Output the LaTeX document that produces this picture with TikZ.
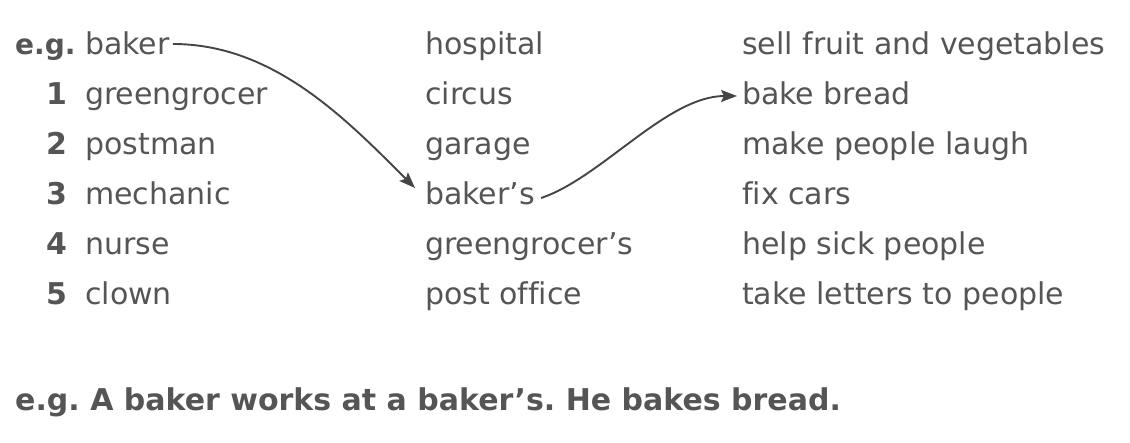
\documentclass[tikz,border=0pt]{standalone}
\usepackage{fontspec}
\setmainfont[Ligatures=NoCommon]{DejaVu Sans}
\usetikzlibrary{arrows.meta}
\definecolor{txt}{HTML}{555555}
\definecolor{arr}{HTML}{454545}
\frenchspacing
\tikzset{
  word/.style={anchor=base west, inner sep=0pt, text=txt, font=\fontsize{30}{36}\selectfont},
  num/.style={word, font=\fontsize{30}{36}\selectfont\bfseries},
  link/.style={draw=arr, line width=1.9pt, -{Stealth[length=16pt,width=12pt,inset=3pt]}}
}
\begin{document}
\begin{tikzpicture}[x=1pt,y=-1pt]
\useasboundingbox (0,0) rectangle (1130,443);
% left column
\node[num, font=\fontsize{28}{34}\selectfont\bfseries] (eg) at (15,55) {e.g.};
\node[word] (w0) at (85,55) {baker};
\node[num] (n1) at (46,105) {1};
\node[word] (w1) at (85,105) {greengrocer};
\node[num] (n2) at (46,155) {2};
\node[word] (w2) at (85,155) {postman};
\node[num] (n3) at (46,205) {3};
\node[word] (w3) at (85,205) {mechanic};
\node[num] (n4) at (46,255) {4};
\node[word] (w4) at (85,255) {nurse};
\node[num] (n5) at (46,305) {5};
\node[word] (w5) at (85,305) {clown};
% middle column
\node[word] (p0) at (425,55) {hospital};
\node[word] (p1) at (425,105) {circus};
\node[word] (p2) at (425,155) {garage};
\node[word] (p3) at (425,205) {baker’s};
\node[word] (p4) at (425,255) {greengrocer’s};
\node[word] (p5) at (425,305) {post office};
% right column
\node[word] (a0) at (742,55) {sell fruit and vegetables};
\node[word] (a1) at (742,105) {bake bread};
\node[word] (a2) at (742,155) {make people laugh};
\node[word] (a3) at (742,205) {fix cars};
\node[word] (a4) at (742,255) {help sick people};
\node[word] (a5) at (742,305) {take letters to people};
% example sentence
\node[num] (ex) at (15,410) {e.g. A baker works at a baker’s. He bakes bread.};
% arrows
\coordinate (s1) at ([xshift=3pt,yshift=11pt]w0.base east);
\coordinate (t1) at ([xshift=-10pt,yshift=17pt]p3.base west);
\draw[link] (s1) .. controls +(100,0) and +(-70,-70) .. (t1);
\coordinate (s2) at ([xshift=6pt,yshift=7pt]p3.base east);
\coordinate (t2) at ([xshift=-5pt,yshift=9pt]a1.base west);
\draw[link] (s2) .. controls +(60,-20) and +(-70,0) .. (t2);
\end{tikzpicture}
\end{document}
